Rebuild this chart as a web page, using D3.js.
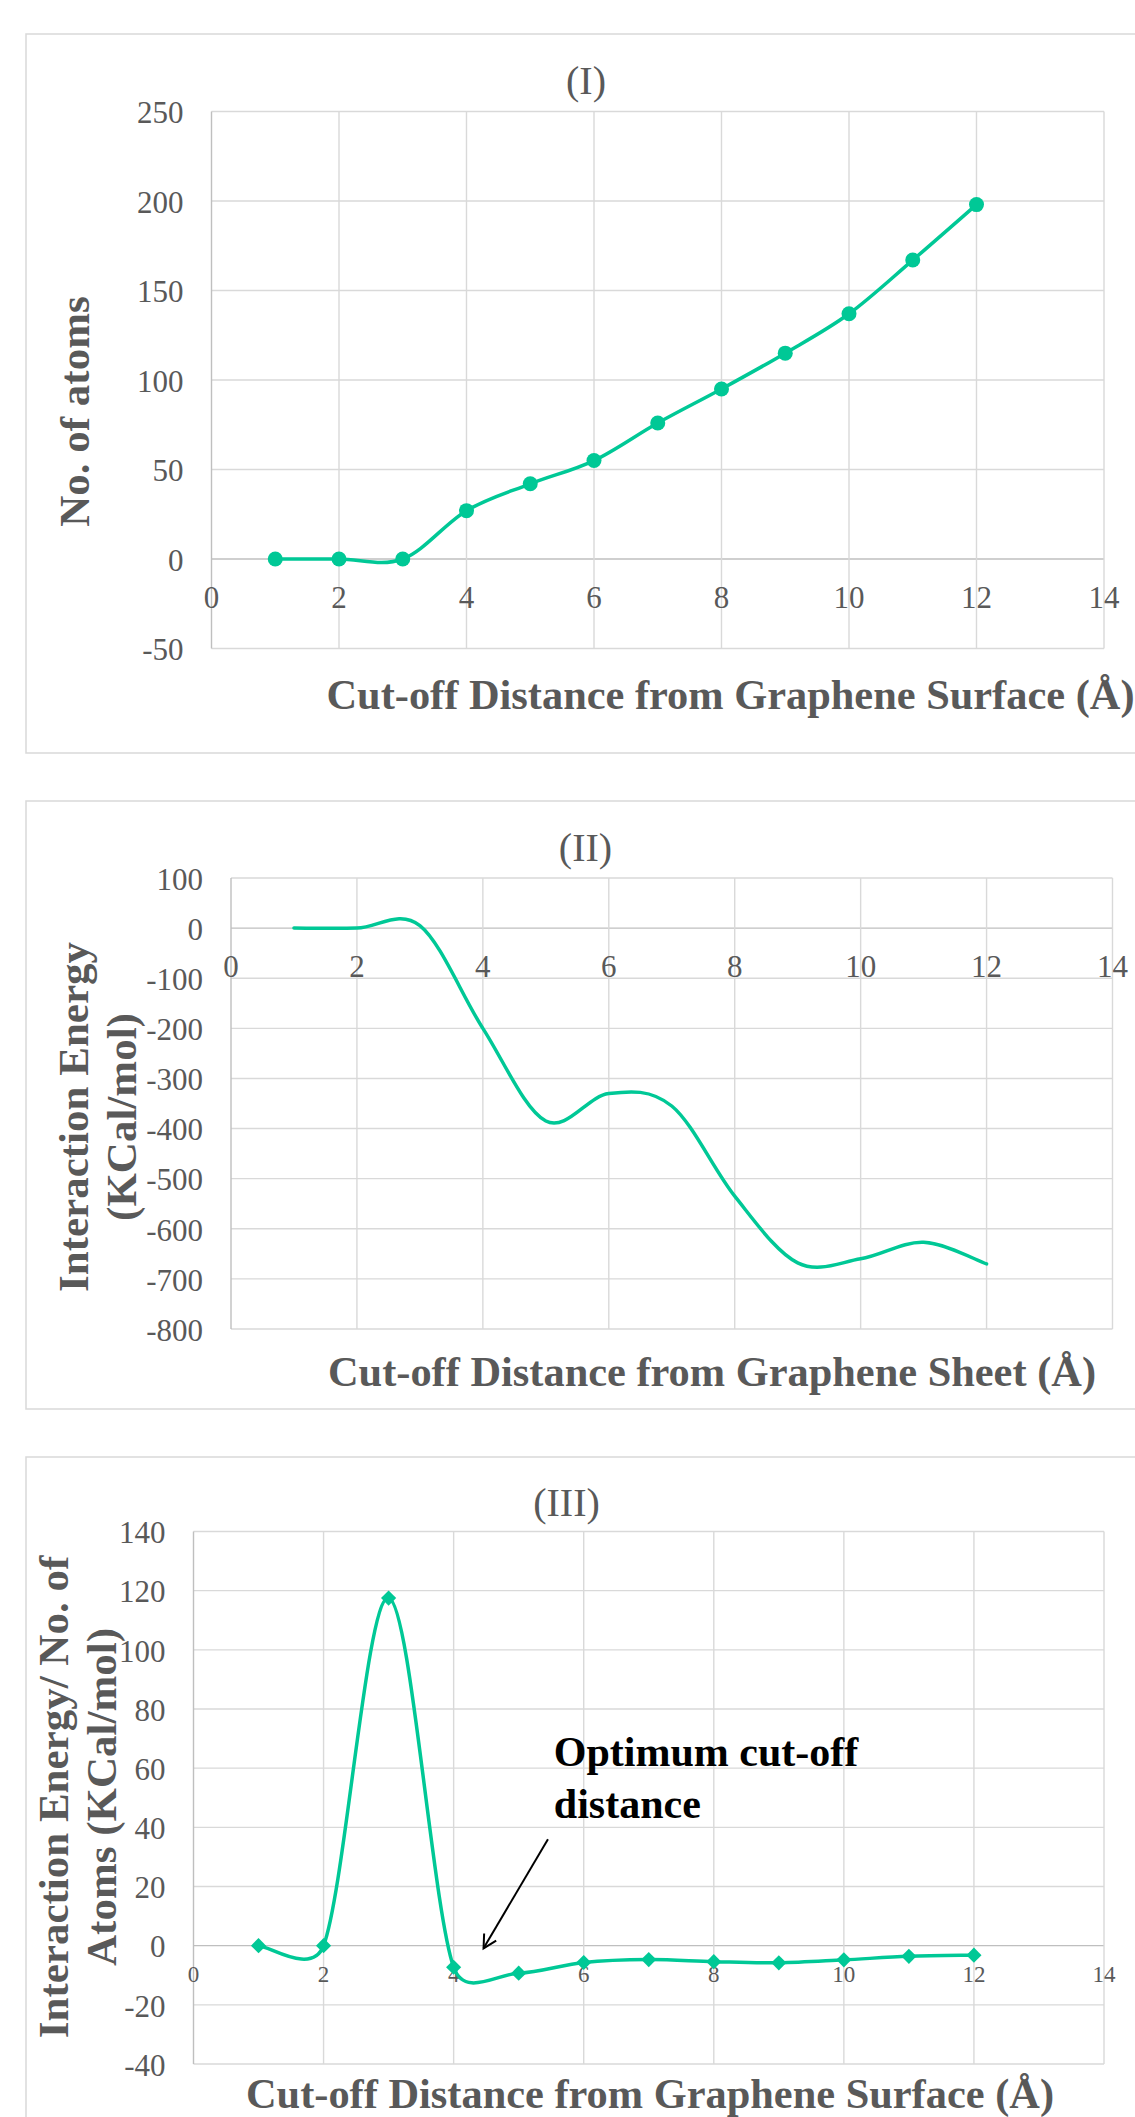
<!DOCTYPE html>
<html>
<head>
<meta charset="utf-8">
<script src="https://cdn.jsdelivr.net/npm/d3@7"></script>
<style>
  body { margin: 0; background: #fff; }
  svg text { font-family: "Liberation Serif", "Times New Roman", serif; }
</style>
</head>
<body>
<svg id="chart" width="1135" height="2117"></svg>
<script>
// data
const distance = [1, 2, 3, 4, 5, 6, 7, 8, 9, 10, 11, 12];
const atoms = [0, 0, 0, 27, 42, 55, 76, 95, 115, 137, 167, 198];
const energy = [0, 0, 5, -200, -385, -330, -355, -535, -668, -660, -627, -670];
const energyPerAtom = [0, 0, 117.5, -7.3, -9.3, -5.7, -4.7, -5.4, -5.8, -4.8, -3.6, -3.2];

const xTicks = [0, 2, 4, 6, 8, 10, 12, 14];
const yTicksI = [-50, 0, 50, 100, 150, 200, 250];
const yTicksII = [-800, -700, -600, -500, -400, -300, -200, -100, 0, 100];
const yTicksIII = [-40, -20, 0, 20, 40, 60, 80, 100, 120, 140];

const teal = "#00c896",
      grey = "#595959",
      gridCol = "#d9d9d9",
      axisCol = "#bfbfbf";

const svg = d3.select("#chart");

// Excel style smoothed line (bezier, control arm capped at half a segment)
function excelCurve(context) {
  return {
    lineStart() { this.pts = []; },
    point(x, y) { this.pts.push([x, y]); },
    lineEnd() {
      const p = this.pts;
      if (!p.length) return;
      context.moveTo(p[0][0], p[0][1]);
      const dist = (a, b) => Math.hypot(a[0] - b[0], a[1] - b[1]);
      for (let i = 0; i < p.length - 1; i++) {
        const p0 = p[i - 1] || p[i], p1 = p[i], p2 = p[i + 1], p3 = p[i + 2] || p[i + 1];
        const d12 = dist(p1, p2), d02 = dist(p0, p2), d13 = dist(p1, p3);
        const f1 = (d02 / 6 < d12 / 2) ? 1 / 6 : d12 / (2 * d02);
        const f2 = (d13 / 6 < d12 / 2) ? 1 / 6 : d12 / (2 * d13);
        context.bezierCurveTo(
          p1[0] + (p2[0] - p0[0]) * f1, p1[1] + (p2[1] - p0[1]) * f1,
          p2[0] - (p3[0] - p1[0]) * f2, p2[1] - (p3[1] - p1[1]) * f2,
          p2[0], p2[1]);
      }
    },
    areaStart() {}, areaEnd() {}
  };
}

function panel(o) {
  svg.append("rect")
    .attr("x", 26).attr("y", o.frame[0])
    .attr("width", 1125).attr("height", o.frame[1] - o.frame[0])
    .attr("fill", "none").attr("stroke", gridCol).attr("stroke-width", 1.5);

  const x = d3.scaleLinear().domain([0, 14]).range([o.left, o.right]);
  const y = d3.scaleLinear().domain(d3.extent(o.yTicks)).range([o.bottom, o.top]);
  const g = svg.append("g");

  // gridlines
  g.selectAll(".hg").data(o.yTicks).enter().append("line")
    .attr("x1", o.left).attr("x2", o.right)
    .attr("y1", d => y(d)).attr("y2", d => y(d))
    .attr("stroke", d => d === 0 ? axisCol : gridCol).attr("stroke-width", 1.4);
  g.selectAll(".vg").data(xTicks).enter().append("line")
    .attr("y1", o.top).attr("y2", o.bottom)
    .attr("x1", d => x(d)).attr("x2", d => x(d))
    .attr("stroke", d => d === 0 ? axisCol : gridCol).attr("stroke-width", 1.4);

  // y tick labels
  g.selectAll(".yl").data(o.yTicks).enter().append("text")
    .attr("x", o.left - 28).attr("y", d => y(d)).attr("dy", "0.38em")
    .attr("text-anchor", "end").attr("fill", grey).attr("font-size", 31)
    .text(d => d);

  // x tick labels hang under the zero line
  g.selectAll(".xl").data(xTicks).enter().append("text")
    .attr("x", d => x(d)).attr("y", y(0) + o.xLabelOff).attr("dy", "0.33em")
    .attr("text-anchor", "middle").attr("fill", grey).attr("font-size", o.xLabelSize)
    .text(d => d);

  // title
  svg.append("text")
    .attr("x", o.titlePos[0]).attr("y", o.titlePos[1])
    .attr("text-anchor", "middle").attr("fill", grey).attr("font-size", 40)
    .text(o.title);

  // axis titles
  o.yTitle.forEach((t, i) => {
    svg.append("text")
      .attr("transform", `translate(${o.yTitleX[i]},${o.yTitleY}) rotate(-90)`)
      .attr("text-anchor", "middle").attr("fill", grey)
      .attr("font-size", 43).attr("font-weight", "bold")
      .text(t);
  });
  svg.append("text")
    .attr("x", o.xTitlePos[0]).attr("y", o.xTitlePos[1])
    .attr("fill", grey).attr("font-size", 42.4).attr("font-weight", "bold")
    .text(o.xTitle);

  // series
  const line = d3.line()
    .x((d, i) => x(distance[i]))
    .y(d => y(d))
    .curve(excelCurve);
  g.append("path")
    .datum(o.values)
    .attr("fill", "none").attr("stroke", teal)
    .attr("stroke-width", 3.5).attr("stroke-linejoin", "round").attr("stroke-linecap", "round")
    .attr("d", line);

  if (o.marker === "circle") {
    g.selectAll(".pt").data(o.values).enter().append("circle")
      .attr("cx", (d, i) => x(distance[i])).attr("cy", d => y(d))
      .attr("r", 7.5).attr("fill", teal);
  } else if (o.marker === "diamond") {
    g.selectAll(".pt").data(o.values).enter().append("path")
      .attr("d", d3.symbol(d3.symbolSquare, 115))
      .attr("transform", (d, i) => `translate(${x(distance[i])},${y(d)}) rotate(45)`)
      .attr("fill", teal);
  }
  return { x, y };
}

panel({
  frame: [34, 753], left: 211.5, right: 1104, top: 111.5, bottom: 648.5,
  yTicks: yTicksI, values: atoms, marker: "circle",
  xLabelOff: 39, xLabelSize: 31,
  title: "(I)", titlePos: [586, 93.5],
  yTitle: ["No. of atoms"], yTitleX: [89], yTitleY: 411.5,
  xTitle: "Cut-off Distance from Graphene Surface (Å)", xTitlePos: [326.5, 709]
});

panel({
  frame: [801, 1409], left: 231, right: 1112.5, top: 878, bottom: 1329,
  yTicks: yTicksII, values: energy, marker: "none",
  xLabelOff: 39, xLabelSize: 31,
  title: "(II)", titlePos: [585.5, 860.5],
  yTitle: ["Interaction Energy", "(KCal/mol)"], yTitleX: [88, 136], yTitleY: 1117,
  xTitle: "Cut-off Distance from Graphene Sheet (Å)", xTitlePos: [328, 1386]
});

const p3 = panel({
  frame: [1457, 2160], left: 193.5, right: 1104, top: 1531.5, bottom: 2064,
  yTicks: yTicksIII, values: energyPerAtom, marker: "diamond",
  xLabelOff: 29, xLabelSize: 23,
  title: "(III)", titlePos: [566.5, 1516],
  yTitle: ["Interaction Energy/ No. of", "Atoms (KCal/mol)"], yTitleX: [68, 116], yTitleY: 1797,
  xTitle: "Cut-off Distance from Graphene Surface (Å)", xTitlePos: [246, 2108]
});

// annotation on panel III
const noteLines = ["Optimum cut-off", "distance"];
const noteAt = [5.54, 60.8], noteStep = 17.5;
const arrowFrom = [5.45, 36], arrowTo = [4.46, -0.9];

svg.append("defs").append("marker")
  .attr("id", "head").attr("markerUnits", "userSpaceOnUse")
  .attr("markerWidth", 20).attr("markerHeight", 20)
  .attr("refX", 15).attr("refY", 8).attr("orient", "auto")
  .append("path").attr("d", "M2,1 L15,8 L2,15")
  .attr("fill", "none").attr("stroke", "#000").attr("stroke-width", 2);

svg.append("line")
  .attr("x1", p3.x(arrowFrom[0])).attr("y1", p3.y(arrowFrom[1]))
  .attr("x2", p3.x(arrowTo[0])).attr("y2", p3.y(arrowTo[1]))
  .attr("stroke", "#000").attr("stroke-width", 2)
  .attr("marker-end", "url(#head)");

svg.selectAll(".note").data(noteLines).enter().append("text")
  .attr("x", p3.x(noteAt[0]))
  .attr("y", (d, i) => p3.y(noteAt[1] - i * noteStep))
  .attr("font-size", 42).attr("font-weight", "bold").attr("fill", "#000")
  .text(d => d);
</script>
</body>
</html>
